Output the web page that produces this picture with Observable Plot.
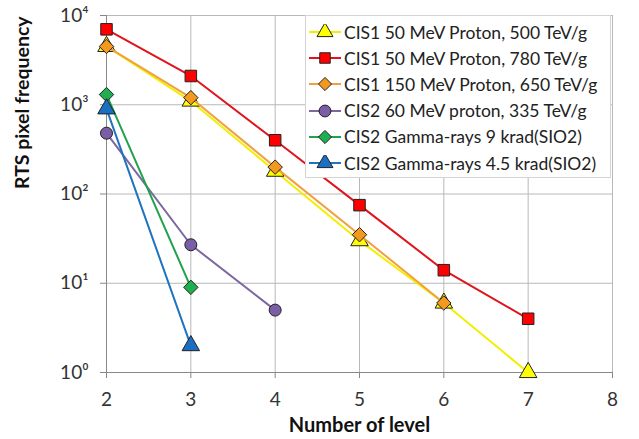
<!DOCTYPE html>
<html>
<head>
<meta charset="utf-8">
<script src="https://cdn.jsdelivr.net/npm/d3@7"></script>
<script src="https://cdn.jsdelivr.net/npm/@observablehq/plot@0.6"></script>
<style>
  body { margin: 0; background: #fff; }
  #chart { position: relative; width: 639px; height: 439px; font-family: Lato, sans-serif; }
  #legend { position: absolute; left: 305px; top: 15px; width: 306px; height: 163px;
            background: #fff; border: 1px solid #d4d4d4; box-sizing: border-box; padding-top: 3px; }
  .row { display: flex; align-items: center; height: 26.2px; font-size: 17.5px; color: #222; white-space: nowrap; }
  .row svg { margin-left: 2px; margin-right: 2px; }
</style>
</head>
<body>
<div id="chart"></div>
<script>
// Number of RTS levels (x) and pixel counts per irradiation case
const levels = [2, 3, 4, 5, 6, 7];
const seriesNames = [
  "CIS1 50 MeV Proton, 500 TeV/g",
  "CIS1 50 MeV Proton, 780 TeV/g",
  "CIS1 150 MeV Proton, 650 TeV/g",
  "CIS2 60 MeV proton, 335 TeV/g",
  "CIS2 Gamma-rays 9 krad(SIO2)",
  "CIS2 Gamma-rays 4.5 krad(SIO2)"
];
const cis1Proton500 = [4500, 1100, 180, 30, 6, 1];
const cis1Proton780 = [7000, 2100, 400, 75, 14, 4];
const cis1Proton650 = [4500, 1200, 200, 35, 6];
const cis2Proton335 = [480, 27, 5];
const cis2Gamma9 = [1300, 9];
const cis2Gamma45 = [900, 2];
const yTicks = [1, 10, 100, 1000, 10000];
const xTicks = [2, 3, 4, 5, 6, 7, 8];

const seriesValues = [cis1Proton500, cis1Proton780, cis1Proton650, cis2Proton335, cis2Gamma9, cis2Gamma45];
const lineColors = ["#f2ee00", "#e0141c", "#f0a040", "#7d67a0", "#22a24e", "#1f73bf"];
const fillColors = ["#ffff00", "#ff0000", "#f39a1e", "#7a5fa6", "#1fae50", "#1a6fc2"];
const symbols = ["triangle", "square", "diamond2", "circle", "diamond2", "triangle"];

const rows = seriesValues.flatMap((vals, s) =>
  vals.map((v, i) => ({series: s, level: levels[i], count: v})));

const sup = {"0": "\u2070", "1": "\u00b9", "2": "\u00b2", "3": "\u00b3", "4": "\u2074"};
const fmtPow = d => "10" + sup[String(Math.round(Math.log10(d)))];

const marks = [
  Plot.gridX(xTicks, {stroke: "#b8b8b8", strokeOpacity: 1}),
  Plot.gridY(yTicks, {stroke: "#b8b8b8", strokeOpacity: 1}),
  Plot.frame({stroke: "#b8b8b8"}),
  Plot.ruleX([2], {stroke: "#888"}),
  Plot.ruleY([1], {stroke: "#888"}),
  Plot.axisX(xTicks, {tickSize: 6, tickPadding: 14, fontSize: 19, label: null, stroke: "#888", color: "#333"}),
  Plot.axisY(yTicks, {tickSize: 6, tickPadding: 12, fontSize: 19, label: null, tickFormat: fmtPow, stroke: "#888", color: "#333"}),
  Plot.text(["Number of level"], {frameAnchor: "bottom", dy: 59, fontSize: 20, fontWeight: "bold", fill: "#111"}),
  Plot.text(["RTS pixel frequency"], {frameAnchor: "left", dx: -84, dy: -5, rotate: -90, fontSize: 19.5, fontWeight: "bold", fill: "#111"})
];
seriesValues.forEach((vals, s) => {
  const data = rows.filter(r => r.series === s);
  marks.push(Plot.line(data, {x: "level", y: "count", stroke: lineColors[s], strokeWidth: 2}));
  marks.push(Plot.dot(data, {x: "level", y: "count", symbol: () => symbols[s], r: s === 3 ? 6 : 6.5,
    fill: fillColors[s], stroke: "#222", strokeWidth: 1}));
});

const plot = Plot.plot({
  width: 639, height: 439,
  marginLeft: 106, marginRight: 27, marginTop: 15, marginBottom: 67,
  style: {fontFamily: "Lato, sans-serif", background: "#fff"},
  x: {domain: [2, 8]},
  y: {type: "log", domain: [1, 10000]},
  symbol: {type: "identity"},
  marks
});
const chart = document.getElementById("chart");
chart.appendChild(plot);

// Legend box drawn on top of the plot area
const symbolTypes = {triangle: d3.symbolTriangle, square: d3.symbolSquare,
  diamond2: d3.symbolDiamond2 || d3.symbolDiamond, circle: d3.symbolCircle};
const legend = document.createElement("div");
legend.id = "legend";
seriesNames.forEach((name, s) => {
  const row = document.createElement("div");
  row.className = "row";
  const sym = d3.symbol(symbolTypes[symbols[s]], 110)();
  row.innerHTML = `<svg width="34" height="16"><line x1="1" x2="33" y1="8" y2="8" stroke="${lineColors[s]}" stroke-width="2"/>` +
    `<path d="${sym}" transform="translate(17,8)" fill="${fillColors[s]}" stroke="#222" stroke-width="1"/></svg>` +
    `<span>${name}</span>`;
  legend.appendChild(row);
});
chart.appendChild(legend);
</script>
</body>
</html>
